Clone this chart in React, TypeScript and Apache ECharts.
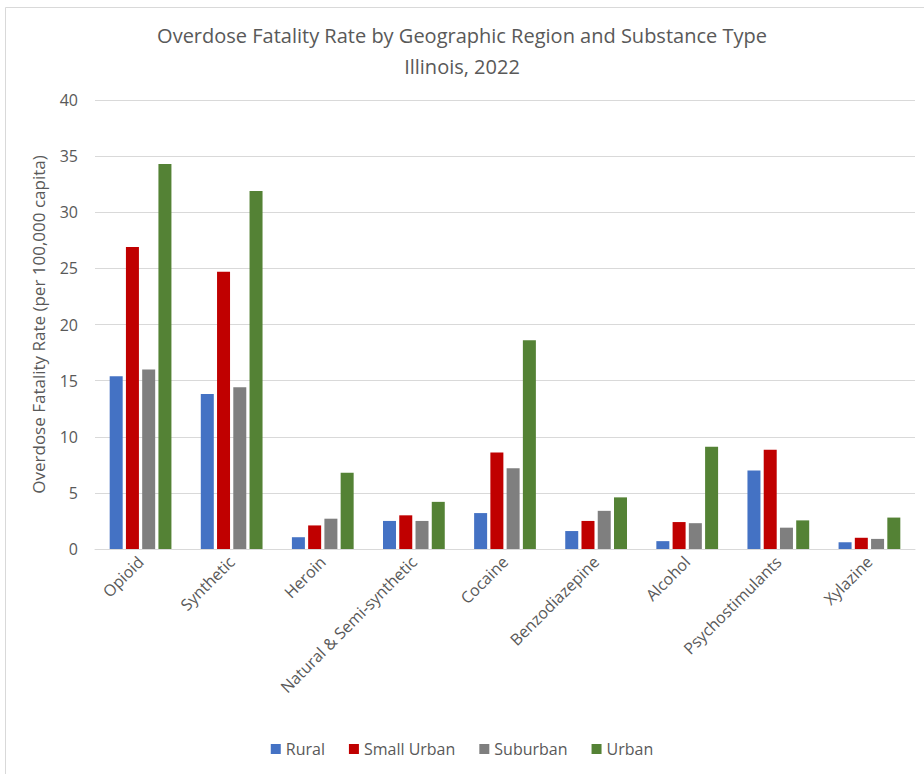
import React, { useEffect, useRef } from "react";
import * as echarts from "echarts";

const categories = [
  "Opioid",
  "Synthetic",
  "Heroin",
  "Natural & Semi-synthetic",
  "Cocaine",
  "Benzodiazepine",
  "Alcohol",
  "Psychostimulants",
  "Xylazine",
];

const rural = [15.4, 13.8, 1.05, 2.5, 3.2, 1.6, 0.7, 7.0, 0.6];
const smallUrban = [26.9, 24.7, 2.1, 3.0, 8.6, 2.5, 2.4, 8.85, 1.0];
const suburban = [16.0, 14.4, 2.7, 2.5, 7.2, 3.4, 2.3, 1.9, 0.9];
const urban = [34.3, 31.9, 6.8, 4.2, 18.6, 4.6, 9.1, 2.55, 2.8];

const seriesNames = ["Rural", "Small Urban", "Suburban", "Urban"];
const seriesColors = ["#4472C4", "#C00000", "#7F7F7F", "#548235"];

const FONT = "'Open Sans', 'Liberation Sans', sans-serif";

export default function App() {
  const ref = useRef<HTMLDivElement>(null);
  useEffect(() => {
    document.body.style.margin = "0";
    if (!ref.current) return;
    const chart = echarts.init(ref.current, undefined, { renderer: "svg" });
    const data = [rural, smallUrban, suburban, urban];
    chart.setOption({
      animation: false,
      backgroundColor: "#ffffff",
      textStyle: { fontFamily: FONT },
      title: {
        text: "Overdose Fatality Rate by Geographic Region and Substance Type\nIllinois, 2022",
        left: "center",
        top: 15,
        textStyle: {
          fontFamily: FONT,
          fontSize: 20,
          fontWeight: "normal",
          color: "#595959",
          lineHeight: 31,
        },
      },
      graphic: [
        {
          type: "rect",
          shape: { x: 5.5, y: 7.5, width: 930, height: 780 },
          style: { fill: "none", stroke: "#d9d9d9", lineWidth: 1 },
          silent: true,
        },
      ],
      legend: {
        bottom: 12,
        left: "center",
        itemWidth: 10,
        itemHeight: 10,
        itemGap: 24,
        icon: "rect",
        textStyle: { fontFamily: FONT, fontSize: 16, color: "#595959" },
        data: seriesNames,
      },
      grid: { left: 95, right: 9, top: 100, bottom: 225, containLabel: false },
      xAxis: {
        type: "category",
        data: categories,
        axisLine: { lineStyle: { color: "#d9d9d9" } },
        axisTick: { show: false },
        axisLabel: {
          rotate: 45,
          interval: 0,
          fontFamily: FONT,
          fontSize: 16,
          color: "#595959",
          margin: 10,
        },
      },
      yAxis: {
        type: "value",
        min: 0,
        max: 40,
        interval: 5,
        name: "Overdose Fatality Rate (per 100,000 capita)",
        nameLocation: "middle",
        nameGap: 48,
        nameTextStyle: { fontFamily: FONT, fontSize: 17, color: "#595959" },
        axisLine: { show: false },
        axisTick: { show: false },
        axisLabel: { fontFamily: FONT, fontSize: 16, color: "#595959", margin: 17 },
        splitLine: { lineStyle: { color: "#d9d9d9" } },
      },
      series: seriesNames.map((name, i) => ({
        name,
        type: "bar",
        data: data[i],
        barWidth: 13,
        barGap: "25%",
        itemStyle: { color: seriesColors[i] },
      })),
    });
    return () => chart.dispose();
  }, []);
  return <div ref={ref} style={{ width: 924, height: 774 }} />;
}
